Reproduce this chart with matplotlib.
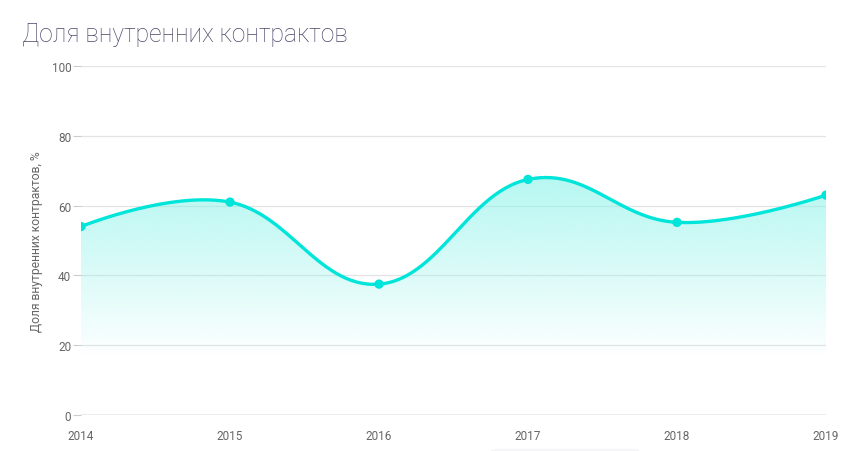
import numpy as np
import matplotlib.pyplot as plt
from matplotlib.patches import FancyBboxPatch
from matplotlib.path import Path
from matplotlib.patches import PathPatch

years = [2014, 2015, 2016, 2017, 2018, 2019]
share = [54, 61, 37.5, 67.5, 55.2, 63]
yticks = [0, 20, 40, 60, 80, 100]

title = 'Доля внутренних контрактов'
ylabel = 'Доля внутренних контрактов, %'

line_color = '#00e5d9'
text_color = '#666666'


def spline_path(xs, ys, smoothing=1.5):
    # bezier spline, control points placed on the tangent through each point
    n = len(xs)
    denom = smoothing + 1
    left = [(xs[i], ys[i]) for i in range(n)]
    right = [(xs[i], ys[i]) for i in range(n)]
    for i in range(1, n - 1):
        x, y = xs[i], ys[i]
        lx = (smoothing * x + xs[i - 1]) / denom
        ly = (smoothing * y + ys[i - 1]) / denom
        rx = (smoothing * x + xs[i + 1]) / denom
        ry = (smoothing * y + ys[i + 1]) / denom
        corr = (ry - ly) * (rx - x) / (rx - lx) + y - ry
        left[i] = (lx, ly + corr)
        right[i] = (rx, ry + corr)
    t = np.linspace(0, 1, 60)[:, None]
    pts = []
    for i in range(n - 1):
        p0 = np.array([xs[i], ys[i]])
        c1 = np.array(right[i])
        c2 = np.array(left[i + 1])
        p1 = np.array([xs[i + 1], ys[i + 1]])
        seg = (1 - t) ** 3 * p0 + 3 * (1 - t) ** 2 * t * c1 + 3 * (1 - t) * t ** 2 * c2 + t ** 3 * p1
        pts.append(seg if i == 0 else seg[1:])
    pts = np.vstack(pts)
    return pts[:, 0], pts[:, 1]


fig = plt.figure(figsize=(8.62, 4.52), dpi=100)
ax = fig.add_axes([81 / 862, 1 - 416 / 452, 745 / 862, 349 / 452])

sx, sy = spline_path(np.array(years, float), np.array(share, float))

# gradient fill under the curve
grad = np.linspace(0, 1, 256)[:, None]
cmap_rgba = np.zeros((256, 1, 4))
cmap_rgba[..., 0] = 0x8c / 255
cmap_rgba[..., 1] = 0xf3 / 255
cmap_rgba[..., 2] = 0xea / 255
alpha = np.clip((grad - 0.17) / (0.70 - 0.17), 0, 1) ** 0.9 * 0.65
cmap_rgba[..., 3] = alpha
img = ax.imshow(cmap_rgba, extent=[years[0], years[-1], 0, 100], origin='lower',
                aspect='auto', zorder=1, interpolation='bilinear')
verts = np.column_stack([np.r_[sx, years[-1], years[0]], np.r_[sy, 0, 0]])
clip = PathPatch(Path(verts), facecolor='none', edgecolor='none')
ax.add_patch(clip)
img.set_clip_path(clip)

ax.plot(sx, sy, color=line_color, lw=2.4, zorder=3, solid_capstyle='round')
ax.scatter(years, share, s=45, color=line_color, zorder=4, edgecolors='none')

ax.set_xlim(years[0], years[-1])
ax.set_ylim(0, 100)
ax.set_yticks(yticks)
ax.set_xticks(years)
ax.set_xticklabels([str(y) for y in years])

for v in yticks[1:]:
    ax.axhline(v, color='#e3e3e3', lw=0.9, zorder=0.5)
ax.axhline(0, color='#a0a0a0', lw=1.0, zorder=2)

for s in ax.spines.values():
    s.set_visible(False)

ax.tick_params(axis='y', length=6, width=0.8, color='#cccccc', labelsize=8.5,
               labelcolor=text_color, pad=1)
ax.tick_params(axis='x', length=0, labelsize=8.5, labelcolor=text_color, pad=10)
for lbl in ax.get_xticklabels() + ax.get_yticklabels():
    lbl.set_family('Roboto')

ax.set_ylabel(ylabel, fontsize=8.7, color=text_color, family='Roboto', labelpad=6)

fig.text(22 / 862, 1 - 42 / 452, title, fontsize=17.7, color='#4a4768',
         family='Roboto', fontweight='light')

# little rounded tab at the bottom
tab = FancyBboxPatch((490 / 862, -0.02), 150 / 862, 0.025,
                     boxstyle='round,pad=0,rounding_size=0.008',
                     transform=fig.transFigure, facecolor='#f6f6f8',
                     edgecolor='none')
fig.patches.append(tab)

fig.savefig('out.png', dpi=100)
